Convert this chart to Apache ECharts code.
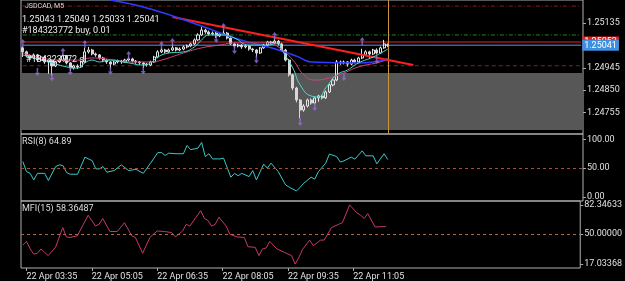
<!DOCTYPE html>
<html>
<head>
<meta charset="utf-8">
<script src="https://cdn.jsdelivr.net/npm/echarts@6/dist/echarts.min.js"></script>
<style>
  html, body { margin: 0; padding: 0; background: #000; }
  #chart { width: 625px; height: 281px; }
</style>
</head>
<body>
<div id="chart"></div>
<script>
// slots on the time axis (bars + empty space on the right)
const barCount = 154
const timeLabels = ['22 Apr 03:35', '22 Apr 05:05', '22 Apr 06:35', '22 Apr 08:05', '22 Apr 09:35', '22 Apr 11:05']
const timeLabelIdx = [1, 19, 37, 55, 73, 91]

// M5 candles: [open, close, low, high]
const candles = [
  [1.25030, 1.25013, 1.24991, 1.25036], [1.25013, 1.24996, 1.24990, 1.25018], [1.24996, 1.24987, 1.24980, 1.25002],
  [1.24987, 1.25000, 1.24983, 1.25006], [1.25000, 1.24978, 1.24970, 1.25004], [1.24978, 1.24991, 1.24974, 1.24996],
  [1.24991, 1.24970, 1.24962, 1.24995], [1.24970, 1.24978, 1.24920, 1.24983], [1.24978, 1.24953, 1.24912, 1.24982],
  [1.24953, 1.24970, 1.24948, 1.24975], [1.24970, 1.24978, 1.24966, 1.24985], [1.24978, 1.24996, 1.24974, 1.25002],
  [1.24996, 1.24966, 1.24960, 1.25000], [1.24966, 1.24944, 1.24932, 1.24970], [1.24944, 1.24953, 1.24938, 1.24958],
  [1.24953, 1.24949, 1.24940, 1.24960], [1.24949, 1.24970, 1.24945, 1.24975], [1.24970, 1.25013, 1.24966, 1.25030],
  [1.25013, 1.25021, 1.25006, 1.25034], [1.25021, 1.25004, 1.24998, 1.25026], [1.25004, 1.25000, 1.24992, 1.25010],
  [1.25000, 1.24987, 1.24980, 1.25004], [1.24987, 1.24978, 1.24970, 1.24992], [1.24978, 1.24970, 1.24962, 1.24983],
  [1.24970, 1.24961, 1.24940, 1.24974], [1.24961, 1.24970, 1.24956, 1.24976], [1.24970, 1.24974, 1.24964, 1.24980],
  [1.24974, 1.24970, 1.24962, 1.24979], [1.24970, 1.24978, 1.24966, 1.24984], [1.24978, 1.24983, 1.24972, 1.24990],
  [1.24983, 1.24974, 1.24968, 1.24988], [1.24974, 1.24970, 1.24962, 1.24978], [1.24970, 1.24966, 1.24958, 1.24974],
  [1.24966, 1.24961, 1.24944, 1.24970], [1.24961, 1.24957, 1.24950, 1.24966], [1.24957, 1.24970, 1.24952, 1.24975],
  [1.24970, 1.24991, 1.24966, 1.24996], [1.24991, 1.25013, 1.24986, 1.25020], [1.25013, 1.25021, 1.25008, 1.25030],
  [1.25021, 1.25013, 1.25006, 1.25026], [1.25013, 1.25021, 1.25009, 1.25027], [1.25021, 1.25030, 1.25016, 1.25046],
  [1.25030, 1.25021, 1.25015, 1.25034], [1.25021, 1.25025, 1.25016, 1.25032], [1.25025, 1.25034, 1.25020, 1.25040],
  [1.25034, 1.25038, 1.25028, 1.25044], [1.25038, 1.25047, 1.25033, 1.25052], [1.25047, 1.25064, 1.25042, 1.25070],
  [1.25064, 1.25085, 1.25060, 1.25092], [1.25085, 1.25106, 1.25080, 1.25120], [1.25106, 1.25098, 1.25090, 1.25112],
  [1.25098, 1.25089, 1.25082, 1.25104], [1.25089, 1.25093, 1.25084, 1.25100], [1.25093, 1.25081, 1.25072, 1.25098],
  [1.25081, 1.25089, 1.25076, 1.25095], [1.25089, 1.25093, 1.25084, 1.25108], [1.25093, 1.25072, 1.25066, 1.25098],
  [1.25072, 1.25047, 1.25042, 1.25076], [1.25047, 1.25038, 1.25030, 1.25052], [1.25038, 1.25042, 1.25032, 1.25048],
  [1.25042, 1.25034, 1.25026, 1.25046], [1.25034, 1.25038, 1.25028, 1.25043], [1.25038, 1.25025, 1.25018, 1.25042],
  [1.25025, 1.25021, 1.25012, 1.25030], [1.25021, 1.25008, 1.24990, 1.25025], [1.25008, 1.25030, 1.25004, 1.25034],
  [1.25030, 1.25042, 1.25026, 1.25047], [1.25042, 1.25055, 1.25038, 1.25060], [1.25055, 1.25051, 1.25044, 1.25060],
  [1.25051, 1.25059, 1.25046, 1.25076], [1.25059, 1.25047, 1.25040, 1.25064], [1.25047, 1.25021, 1.25016, 1.25052],
  [1.25021, 1.24978, 1.24972, 1.25026], [1.24978, 1.24915, 1.24908, 1.24983], [1.24915, 1.24859, 1.24850, 1.24920],
  [1.24859, 1.24808, 1.24798, 1.24864], [1.24808, 1.24765, 1.24730, 1.24812], [1.24765, 1.24782, 1.24758, 1.24790],
  [1.24782, 1.24808, 1.24776, 1.24814], [1.24808, 1.24795, 1.24788, 1.24815], [1.24795, 1.24817, 1.24790, 1.24822],
  [1.24817, 1.24825, 1.24800, 1.24830], [1.24825, 1.24817, 1.24810, 1.24830], [1.24817, 1.24842, 1.24812, 1.24848],
  [1.24842, 1.24872, 1.24838, 1.24878], [1.24872, 1.24893, 1.24866, 1.24900], [1.24893, 1.24970, 1.24888, 1.24978],
  [1.24970, 1.24966, 1.24958, 1.24976], [1.24966, 1.24970, 1.24960, 1.24976], [1.24970, 1.24961, 1.24950, 1.24974],
  [1.24961, 1.24978, 1.24956, 1.24984], [1.24978, 1.24970, 1.24964, 1.24984], [1.24970, 1.24987, 1.24966, 1.24992],
  [1.24987, 1.25000, 1.24982, 1.25026], [1.25000, 1.25013, 1.24996, 1.25020], [1.25013, 1.25004, 1.24984, 1.25018],
  [1.25004, 1.25021, 1.25000, 1.25026], [1.25021, 1.25008, 1.25002, 1.25028], [1.25008, 1.25030, 1.25004, 1.25036],
  [1.25030, 1.25047, 1.25026, 1.25064], [1.25043, 1.25041, 1.25033, 1.25049]
]

// moving averages read at [bar, price]
const maCyan = [[0, 1.25000], [3, 1.24987], [8, 1.24966], [12, 1.24949], [15, 1.24944], [17, 1.24966], [19, 1.24978],
  [21, 1.24970], [24, 1.24978], [29, 1.24966], [33, 1.24957], [35, 1.24966], [37, 1.24991], [40, 1.25008], [44, 1.25013],
  [47, 1.25034], [49, 1.25064], [51, 1.25085], [55, 1.25085], [58, 1.25072], [62, 1.25042], [67, 1.25042], [70, 1.25051],
  [71, 1.25021], [74, 1.24944], [76, 1.24872], [79, 1.24825], [81, 1.24821], [83, 1.24859], [86, 1.24915], [89, 1.24936],
  [92, 1.24966], [96, 1.24991], [100, 1.25025]]
const maPink = [[0, 1.25008], [4, 1.24991], [10, 1.24978], [15, 1.24978], [19, 1.24987], [25, 1.24978], [29, 1.24970],
  [35, 1.24970], [38, 1.24978], [44, 1.25008], [49, 1.25030], [54, 1.25042], [58, 1.25051], [67, 1.25051], [70, 1.25034],
  [74, 1.24978], [77, 1.24915], [80, 1.24893], [84, 1.24902], [88, 1.24923], [92, 1.24949], [98, 1.24970], [100, 1.24983]]
const maBlue = [[24, 1.25234], [35, 1.25196], [49, 1.25123], [58, 1.25072], [65, 1.25042], [70, 1.25021], [75, 1.24995],
  [79, 1.24970], [92, 1.24966], [100, 1.24983]]
const trendRed = [[41, 1.25162], [107, 1.24957]]

// fractal arrows
const fractalUp = [[0, 1.25051], [11, 1.25013], [17, 1.25047], [29, 1.25000], [38, 1.25042], [41, 1.25055], [55, 1.25119],
  [69, 1.25081], [93, 1.25059]]
const fractalDown = [[4, 1.24927], [8, 1.24905], [13, 1.24930], [24, 1.24932], [33, 1.24934], [53, 1.25068], [58, 1.25021],
  [64, 1.24980], [76, 1.24714], [80, 1.24778], [88, 1.24906], [97, 1.24978]]

// trade levels
const tpPrice = 1.25208
const openPrice = 1.25085
const askPrice = 1.25055
const bidPrice = 1.25041
const slPrice = 1.24954
const zoneTop = 1.24923
const zoneBottom = 1.24680

const priceTicks = [1.24755, 1.24850, 1.24945, 1.25135]

// RSI(8) and MFI(15) read at [bar, value]
const rsi = [[0, 61.5], [1, 44], [2, 41], [3, 29.6], [4, 41], [6, 41], [7, 28.5], [9, 52.8], [10, 55.7], [11, 54.5],
  [12, 42.3], [13, 39.5], [15, 39.5], [17, 69], [19, 63], [20, 48.8], [21, 48.8], [22, 52.8], [23, 43], [25, 45.8],
  [27, 55.7], [29, 45.8], [31, 48], [33, 41], [35, 58.7], [37, 77], [38, 77], [39, 72], [40, 76], [42, 75], [44, 75],
  [45, 89.4], [46, 82], [48, 84.8], [49, 94.6], [50, 70], [51, 75], [52, 66], [54, 66], [55, 67.4], [57, 34.3], [58, 41],
  [59, 37], [60, 41], [62, 35.4], [63, 45.8], [64, 29.6], [66, 57], [67, 50], [68, 58.7], [70, 44], [72, 21], [73, 17],
  [75, 10.5], [76, 17], [77, 24], [79, 34.3], [80, 31], [81, 44], [83, 58.7], [84, 74.4], [86, 70.2], [87, 60.5],
  [88, 62.7], [90, 69], [91, 65.7], [93, 80], [94, 71.4], [96, 71.4], [97, 57.5], [99, 75], [100, 64.89]]
const rsiTicks = [0, 50, 100]

const mfi = [[0, 38], [1, 42], [2, 34], [3, 28], [4, 29], [5, 33.7], [6, 30], [7, 26.4], [9, 35.5], [11, 57.3], [12, 47],
  [13, 46.4], [15, 48.2], [18, 71], [20, 59], [21, 61], [22, 67.4], [24, 53], [26, 53], [28, 62.7], [30, 48.2], [31, 46.4],
  [33, 29], [35, 46.4], [37, 53.6], [39, 53], [41, 51.8], [42, 47], [44, 53.6], [45, 61], [46, 59], [49, 76], [50, 67.4],
  [51, 65.2], [52, 59], [53, 61], [54, 68.8], [56, 59], [57, 50], [59, 47], [61, 46.4], [62, 36.2], [64, 35.5], [65, 26.4],
  [66, 33.7], [67, 34.8], [68, 42], [70, 33.7], [72, 30], [74, 26.4], [75, 17.03], [76, 24], [77, 33], [79, 43.5],
  [80, 37.3], [82, 43.5], [83, 43.5], [85, 57.3], [87, 61], [88, 62.7], [90, 82.35], [92, 73.6], [93, 71], [94, 67.4],
  [95, 72.8], [97, 58], [99, 58.4], [100, 58.36487]]
const mfiTicks = [17.03368, 50, 82.34633]

const categories = Array.from({ length: barCount }, (_, i) => i)
const font = 'Roboto, sans-serif'
const arrowPath = 'path://M5 0 L10 5 L6.5 5 L6.5 12 L3.5 12 L3.5 5 L0 5 Z'

const chart = echarts.init(document.getElementById('chart'))

function xAxisFor(idx, showLabels) {
  return {
    type: 'category',
    gridIndex: idx,
    data: categories,
    boundaryGap: true,
    axisLine: { show: false },
    splitLine: { show: false },
    axisTick: showLabels ? {
      show: true, length: 3, alignWithLabel: true,
      interval: (i) => timeLabelIdx.includes(i),
      lineStyle: { color: '#aaa' }
    } : { show: false },
    axisLabel: showLabels ? {
      show: true, interval: 0, align: 'left', margin: 4,
      color: '#e0e0e0', fontSize: 9, fontFamily: font,
      formatter: (v, i) => {
        const k = timeLabelIdx.indexOf(i)
        return k >= 0 ? timeLabels[k] : ''
      }
    } : { show: false }
  }
}

function yAxisFor(idx, min, max, ticks, digits) {
  return {
    type: 'value',
    gridIndex: idx,
    position: 'right',
    min: min,
    max: max,
    splitLine: { show: false },
    axisLine: { show: false },
    axisTick: { show: true, length: 3, customValues: ticks, lineStyle: { color: '#aaa' } },
    axisLabel: {
      show: true, customValues: ticks, margin: 4,
      color: '#e0e0e0', fontSize: 9, fontFamily: font,
      formatter: (v) => v.toFixed(digits)
    }
  }
}

// one horizontal level, drawn as a line series of its own
function levelSeries(value, color, type, width, tag) {
  return {
    type: 'line', xAxisIndex: 0, yAxisIndex: 0, z: 2,
    data: [[0, value], [barCount - 1, value]],
    symbol: 'none', silent: true,
    lineStyle: { color: color, type: type, width: width },
    endLabel: tag ? {
      show: true, formatter: tag.text, distance: 1,
      backgroundColor: tag.bg, color: '#fff', fontSize: 9, fontFamily: font, padding: [1, 2]
    } : { show: false }
  }
}

chart.setOption({
  backgroundColor: '#000',
  animation: false,
  grid: [
    { left: 21, right: 42, top: 0, height: 134, show: true, borderColor: '#b0b0b0', borderWidth: 1 },
    { left: 21, right: 42, top: 134, height: 67, show: true, borderColor: '#b0b0b0', borderWidth: 1 },
    { left: 21, right: 42, top: 201, height: 68, show: true, borderColor: '#b0b0b0', borderWidth: 1 }
  ],
  xAxis: [xAxisFor(0, false), xAxisFor(1, false), xAxisFor(2, true)],
  yAxis: [
    yAxisFor(0, 1.24663, 1.25234, priceTicks, 5),
    yAxisFor(1, -6.9, 109.2, rsiTicks, 2),
    yAxisFor(2, 12.68, 86.7, mfiTicks, 5)
  ],
  graphic: [
    { type: 'text', left: 25, top: 3, z: 100, style: { text: 'JSDCAD, M5', fill: '#ddd', font: '7px ' + font } },
    { type: 'text', left: 22, top: 15, z: 100, style: { text: '1.25043 1.25049 1.25033 1.25041', fill: '#eee', font: '9px ' + font } },
    { type: 'text', left: 22, top: 26, z: 100, style: { text: '#184323772 buy, 0.01', fill: '#eee', font: '9px ' + font } },
    { type: 'text', left: 26, top: 55, z: 100, style: { text: '#184323772 sl', fill: '#eee', font: '9px ' + font } },
    { type: 'text', left: 22, top: 137, z: 100, style: { text: 'RSI(8) 64.89', fill: '#ddd', font: '9px ' + font } },
    { type: 'text', left: 22, top: 204, z: 100, style: { text: 'MFI(15) 58.36487', fill: '#ddd', font: '9px ' + font } }
  ],
  series: [
    levelSeries(tpPrice, '#8a1c1c', [4, 2, 1, 2], 1),
    levelSeries(openPrice, '#2f7d2f', [4, 2, 1, 2], 1),
    levelSeries(slPrice, '#8a1c1c', [4, 3], 1),
    levelSeries(askPrice, '#e02424', 'solid', 1, { text: '1.25053', bg: '#e02424' }),
    levelSeries(bidPrice, '#3466a8', 'solid', 1.5, { text: '1.25041', bg: '#3d8fe0' }),
    {
      // gray zone behind the candles
      type: 'line', xAxisIndex: 0, yAxisIndex: 0, z: 1,
      data: [[0, zoneTop]], symbol: 'none', silent: true,
      markArea: {
        silent: true,
        itemStyle: { color: '#575757' },
        data: [[{ yAxis: zoneTop }, { yAxis: zoneBottom }]]
      }
    },
    {
      type: 'candlestick', xAxisIndex: 0, yAxisIndex: 0, z: 5,
      data: candles,
      barWidth: '70%',
      itemStyle: {
        color: 'rgba(0,0,0,0)', borderColor: '#e6e6e6',
        color0: '#d8d8d8', borderColor0: '#d8d8d8', borderWidth: 1
      },
      markLine: {
        silent: true, symbol: 'none', label: { show: false },
        lineStyle: { color: '#c8963c', type: 'solid', width: 1 },
        data: [{ xAxis: 100 }]
      }
    },
    {
      type: 'line', xAxisIndex: 0, yAxisIndex: 0, z: 6, data: trendRed,
      symbol: 'none', lineStyle: { color: '#ff1f1f', width: 2 }
    },
    {
      type: 'line', xAxisIndex: 0, yAxisIndex: 0, z: 6, data: maBlue, smooth: true,
      symbol: 'none', lineStyle: { color: '#2f3cff', width: 1.5 }
    },
    {
      type: 'line', xAxisIndex: 0, yAxisIndex: 0, z: 6, data: maPink, smooth: true,
      symbol: 'none', lineStyle: { color: '#d8407e', width: 1 }
    },
    {
      type: 'line', xAxisIndex: 0, yAxisIndex: 0, z: 6, data: maCyan, smooth: true,
      symbol: 'none', lineStyle: { color: '#45dcd0', width: 1 }
    },
    {
      type: 'scatter', xAxisIndex: 0, yAxisIndex: 0, z: 7, data: fractalUp,
      symbol: arrowPath, symbolSize: [5, 8], itemStyle: { color: '#9370db' }
    },
    {
      type: 'scatter', xAxisIndex: 0, yAxisIndex: 0, z: 7, data: fractalDown,
      symbol: arrowPath, symbolSize: [5, 8], symbolRotate: 180, itemStyle: { color: '#9370db' }
    },
    {
      type: 'line', xAxisIndex: 1, yAxisIndex: 1, data: rsi,
      symbol: 'none', lineStyle: { color: '#3cc8c8', width: 1 },
      markLine: {
        silent: true, symbol: 'none', label: { show: false },
        lineStyle: { color: '#a0522d', type: [3, 3], width: 1 },
        data: [{ yAxis: 50 }]
      }
    },
    {
      type: 'line', xAxisIndex: 2, yAxisIndex: 2, data: mfi,
      symbol: 'none', lineStyle: { color: '#c8386a', width: 1 },
      markLine: {
        silent: true, symbol: 'none', label: { show: false },
        lineStyle: { color: '#a86a48', type: [3, 3], width: 1 },
        data: [{ yAxis: 50 }]
      }
    }
  ]
})
</script>
</body>
</html>
